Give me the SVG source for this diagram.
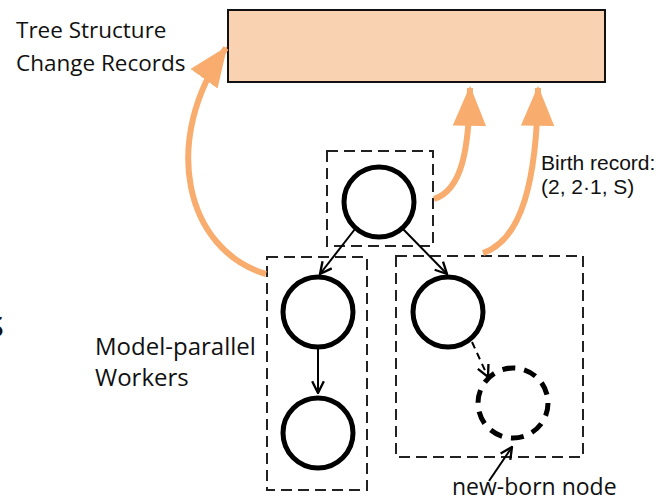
<svg xmlns="http://www.w3.org/2000/svg" width="662" height="501" viewBox="0 0 662 501">
<style>
.lbl{font-family:"Liberation Sans",Arial,sans-serif;font-size:21px;fill:#111}
.cal{font-family:"Open Sans","Liberation Sans",sans-serif;font-size:22.5px;fill:#111}
.grp{fill:none;stroke:#222;stroke-width:2;stroke-dasharray:11 6}
.node{fill:#fff;stroke:#000;stroke-width:5}
.newnode{fill:none;stroke:#000;stroke-width:5;stroke-dasharray:13 9}
.edge{fill:none;stroke:#000;stroke-width:2}
.rec{fill:none;stroke:#F8AC6E;stroke-width:6}
</style>
<defs>
<marker id="oh" markerUnits="userSpaceOnUse" markerWidth="40" markerHeight="40" viewBox="0 0 36 30" refX="34" refY="15" orient="auto">
<path d="M0,0 L36,15 L0,30 Z" fill="#F8AC6E"/>
</marker>
<marker id="bh" markerUnits="userSpaceOnUse" markerWidth="14" markerHeight="14" viewBox="0 0 12 12" refX="11" refY="6" orient="auto">
<path d="M1,1 L11,6 L1,11" fill="none" stroke="#000" stroke-width="2"/>
</marker>
</defs>
<g id="records">
<rect x="228" y="10" width="377" height="72" fill="#F9D2B2" stroke="#111" stroke-width="2"/>
</g>
<text class="cal" x="16" y="38">Tree Structure</text>
<text class="cal" x="16" y="71">Change Records</text>
<text class="cal" x="-14" y="337" style="font-size:38px">s</text>
<g id="root-group">
<rect class="grp" x="327" y="151" width="106" height="95"/>
<circle id="root" class="node" cx="379" cy="202" r="35"/>
</g>
<g id="left-group">
<rect class="grp" x="267" y="257" width="100" height="233"/>
<circle id="left1" class="node" cx="318" cy="312" r="35"/>
<circle id="left2" class="node" cx="318" cy="433" r="35"/>
</g>
<g id="right-group">
<rect class="grp" x="396" y="256" width="187" height="201"/>
<circle id="right1" class="node" cx="448" cy="312" r="35"/>
<circle id="newborn" class="newnode" cx="513" cy="403" r="35"/>
</g>
<g id="connectors">
<path class="edge" d="M355,229 L320,274" marker-end="url(#bh)"/>
<path class="edge" d="M403,229 L447,274" marker-end="url(#bh)"/>
<path class="edge" d="M318,349 L318,393" marker-end="url(#bh)"/>
<path class="edge" d="M472,342 L488,377" stroke-dasharray="7 5" marker-end="url(#bh)"/>
<path class="edge" d="M489,481 L512,447" marker-end="url(#bh)"/>
<path class="rec" d="M266,274 C185,250 160,140 226,48" marker-end="url(#oh)"/>
<path class="rec" d="M434,199 C462,190 469,150 470,88" marker-end="url(#oh)"/>
<path class="rec" d="M483,253 C522,240 537,180 538,88" marker-end="url(#oh)"/>
</g>
<text class="cal" x="95" y="355" style="font-size:24px">Model-parallel</text>
<text class="cal" x="95" y="386" style="font-size:24px">Workers</text>
<text class="lbl" x="541" y="170">Birth record:</text>
<text class="lbl" x="541" y="194">(2, 2·1, S)</text>
<text class="cal" x="452" y="495" style="font-size:23px">new-born node</text>
</svg>
